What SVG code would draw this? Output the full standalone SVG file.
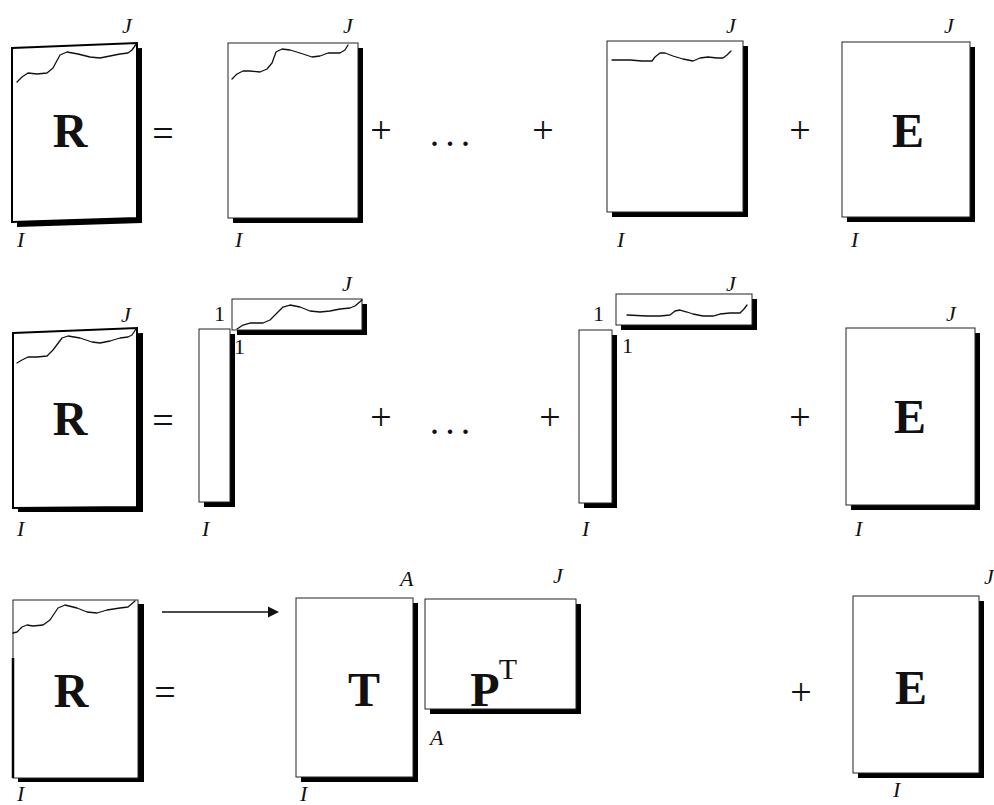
<svg xmlns="http://www.w3.org/2000/svg" width="994" height="805" viewBox="0 0 994 805">
<style>
.sh{fill:#000}
.bx{fill:#fff;stroke:#222;stroke-width:1}
.bxk{fill:#fff;stroke:#000;stroke-width:2}
.wv{fill:none;stroke:#111;stroke-width:1.3;stroke-linejoin:round;stroke-linecap:round}
.lb{font-family:"Liberation Serif",serif;font-style:italic;font-size:22px;fill:#111}
.one{font-family:"Liberation Serif",serif;font-size:22px;fill:#111}
.sup{font-family:"Liberation Serif",serif;font-size:30px;fill:#111;text-anchor:middle}
.big{font-family:"Liberation Serif",serif;font-weight:bold;font-size:48px;fill:#111;text-anchor:middle}
.op{font-family:"Liberation Serif",serif;font-size:38px;fill:#111;text-anchor:middle}
</style>
<rect width="994" height="805" fill="#fff"/>

<!-- Row 1 -->
<g id="r1-R">
<polygon class="sh" points="17,53 142,48 142,223 17,227"/>
<polygon class="bxk" points="12,48 137,43 137,218 12,222"/>
<polyline class="wv" points="17,82 22,77 28,73 37,74 47,73 53,68 60,55 67,52 78,54 90,57 100,58 110,56 120,54 128,53 132,50 137,43"/>
<text class="big" x="70" y="147">R</text>
<text class="lb" x="122" y="33">J</text>
<text class="lb" x="17" y="247">I</text>
</g>
<g id="r1-eq"><text class="op" x="163" y="146">=</text></g>
<g id="r1-c1">
<rect class="sh" x="233" y="48" width="130" height="175"/>
<rect class="bx" x="228" y="43" width="130" height="175"/>
<polyline class="wv" points="232,79 237,74 243,71 250,71 260,72 267,69 272,63 276,52 282,49 290,50 300,53 312,57 320,56 328,53 340,53 345,50 348,45"/>
<text class="lb" x="343" y="33">J</text>
<text class="lb" x="235" y="247">I</text>
</g>
<g id="r1-plus1"><text class="op" x="381" y="143">+</text></g>
<g id="r1-dots"><text class="op" x="453" y="146" letter-spacing="6">...</text></g>
<g id="r1-plus2"><text class="op" x="543" y="143">+</text></g>
<g id="r1-cA">
<rect class="sh" x="612" y="46" width="136" height="171"/>
<rect class="bx" x="607" y="41" width="136" height="171"/>
<polyline class="wv" points="612,60 630,60 642,61 652,61 655,57 660,53 665,53 673,56 683,59 693,61 700,58 708,57 717,58 723,58 727,55 731,51"/>
<text class="lb" x="726" y="33">J</text>
<text class="lb" x="617" y="247">I</text>
</g>
<g id="r1-plus3"><text class="op" x="800" y="143">+</text></g>
<g id="r1-E">
<rect class="sh" x="847" y="47" width="128" height="175"/>
<rect class="bx" x="842" y="42" width="128" height="175"/>
<text class="big" x="908" y="147">E</text>
<text class="lb" x="944" y="33">J</text>
<text class="lb" x="851" y="247">I</text>
</g>

<!-- Row 2 -->
<g id="r2-R">
<polygon class="sh" points="18,338 143,333 143,512 18,512"/>
<polygon class="bxk" points="13,333 137,328 137,507 13,508"/>
<polyline class="wv" points="17,363 22,360 28,357 37,357 47,356 53,350 62,338 68,336 80,338 92,342 100,343 110,341 120,338 128,337 132,335 136,329"/>
<text class="big" x="70" y="435">R</text>
<text class="lb" x="121" y="322">J</text>
<text class="lb" x="17" y="536">I</text>
</g>
<g id="r2-eq"><text class="op" x="163" y="433">=</text></g>
<g id="r2-t1">
<rect class="sh" x="204" y="334" width="31" height="173"/>
<rect class="bx" x="199" y="329" width="31" height="173"/>
<text class="lb" x="202" y="536">I</text>
</g>
<g id="r2-p1">
<rect class="sh" x="237" y="304" width="130" height="31"/>
<rect class="bx" x="232" y="299" width="130" height="31"/>
<polyline class="wv" points="237,329 240,327 243,325 250,323 257,323 263,323 270,320 277,313 283,307 290,305 300,307 310,311 320,312 330,311 340,309 350,308 355,306 362,300"/>
<text class="lb" x="342" y="291">J</text>
<text class="one" x="214" y="321">1</text>
<text class="one" x="234" y="354">1</text>
</g>
<g id="r2-plus1"><text class="op" x="381" y="430">+</text></g>
<g id="r2-dots"><text class="op" x="453" y="434" letter-spacing="6">...</text></g>
<g id="r2-plus2"><text class="op" x="550" y="430">+</text></g>
<g id="r2-t2">
<rect class="sh" x="584" y="335" width="33" height="173"/>
<rect class="bx" x="579" y="330" width="33" height="173"/>
<text class="lb" x="582" y="536">I</text>
</g>
<g id="r2-p2">
<rect class="sh" x="621" y="299" width="136" height="31"/>
<rect class="bx" x="616" y="294" width="136" height="31"/>
<polyline class="wv" points="627,315 647,316 660,316 670,315 675,311 680,310 687,312 693,314 703,316 713,316 720,314 730,313 740,313 744,309 747,305"/>
<text class="lb" x="726" y="291">J</text>
<text class="one" x="593" y="321">1</text>
<text class="one" x="622" y="353">1</text>
</g>
<g id="r2-plus3"><text class="op" x="800" y="430">+</text></g>
<g id="r2-E">
<rect class="sh" x="851" y="333" width="129" height="177"/>
<rect class="bx" x="846" y="328" width="129" height="177"/>
<text class="big" x="910" y="433">E</text>
<text class="lb" x="946" y="321">J</text>
<text class="lb" x="855" y="536">I</text>
</g>

<!-- Row 3 -->
<g id="r3-R">
<rect class="sh" x="18" y="604" width="126" height="178"/>
<rect class="bx" x="13" y="600" width="125" height="178"/>
<line x1="13" y1="658" x2="13" y2="778" stroke="#000" stroke-width="2.5"/>
<polyline class="wv" points="13,633 17,632 22,627 27,625 33,626 43,625 50,620 58,608 65,605 77,608 87,612 97,613 107,610 120,608 128,607 135,601"/>
<text class="big" x="71" y="707">R</text>
<text class="lb" x="17" y="801">I</text>
</g>
<g id="r3-eq"><text class="op" x="165" y="705">=</text></g>
<g id="connectors">
<line x1="162" y1="612" x2="270" y2="612" stroke="#111" stroke-width="1.5"/>
<polygon points="268,606.5 279,612 268,617.5" fill="#111"/>
</g>
<g id="r3-T">
<rect class="sh" x="301" y="603" width="117" height="179"/>
<rect class="bx" x="296" y="598" width="117" height="179"/>
<text class="big" x="364" y="706">T</text>
<text class="lb" x="400" y="586">A</text>
<text class="lb" x="300" y="801">I</text>
</g>
<g id="r3-P">
<rect class="sh" x="430" y="604" width="151" height="110"/>
<rect class="bx" x="425" y="599" width="151" height="110"/>
<text class="big" x="485" y="706">P</text>
<text class="sup" x="508" y="679">T</text>
<text class="lb" x="553" y="583">J</text>
<text class="lb" x="430" y="745">A</text>
</g>
<g id="r3-plus"><text class="op" x="801" y="705">+</text></g>
<g id="r3-E">
<rect class="sh" x="858" y="601" width="126" height="177"/>
<rect class="bx" x="853" y="596" width="126" height="177"/>
<text class="big" x="911" y="704">E</text>
<text class="lb" x="984" y="584">J</text>
<text class="lb" x="893" y="797">I</text>
</g>
</svg>
